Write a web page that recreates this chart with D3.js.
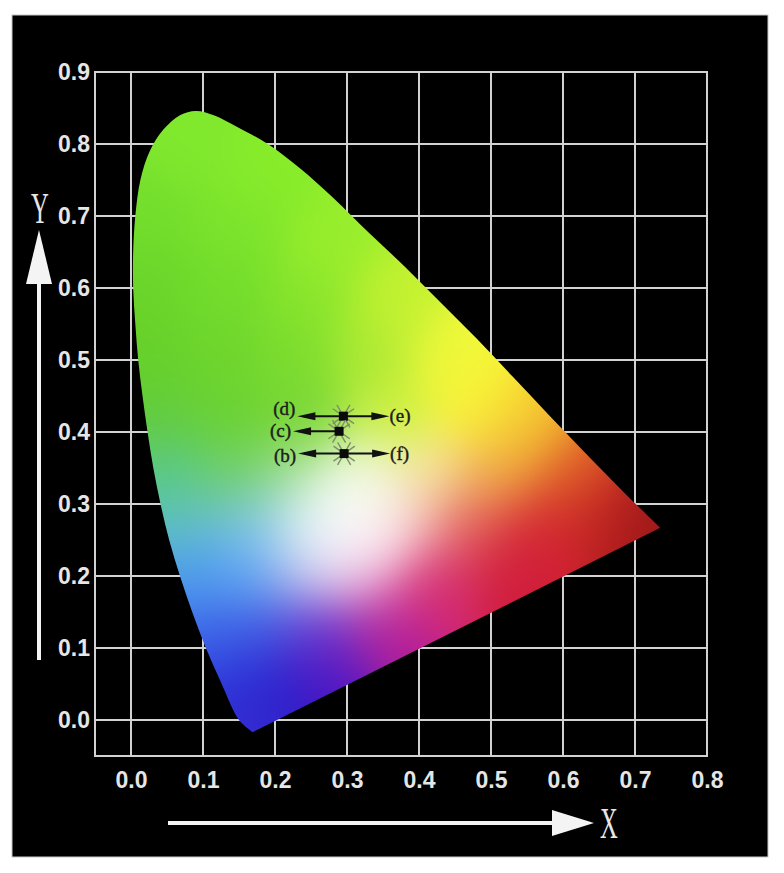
<!DOCTYPE html>
<html>
<head>
<meta charset="utf-8">
<script src="https://cdn.jsdelivr.net/npm/d3@7"></script>
<style>
  body { margin: 0; background: #fff; }
  svg { display: block; }
</style>
</head>
<body>
<svg id="chart" width="784" height="873"></svg>
<script>
// spectral locus: blue tip -> green peak -> red corner
const locusX = [0.169, 0.150, 0.126, 0.104, 0.085, 0.068, 0.053, 0.041, 0.031, 0.023, 0.016, 0.010, 0.006, 0.003, 0.003, 0.006, 0.013, 0.026, 0.045, 0.068, 0.090, 0.115, 0.147, 0.190, 0.235, 0.280, 0.330, 0.380, 0.430, 0.480, 0.530, 0.580, 0.630, 0.680, 0.735];
const locusY = [-0.017, 0.000, 0.050, 0.100, 0.150, 0.200, 0.250, 0.300, 0.350, 0.400, 0.450, 0.500, 0.550, 0.600, 0.650, 0.700, 0.750, 0.790, 0.820, 0.840, 0.846, 0.840, 0.824, 0.800, 0.766, 0.726, 0.677, 0.630, 0.580, 0.530, 0.477, 0.424, 0.372, 0.321, 0.267];

const xTicks = [0.0, 0.1, 0.2, 0.3, 0.4, 0.5, 0.6, 0.7, 0.8];
const yTicks = [0.0, 0.1, 0.2, 0.3, 0.4, 0.5, 0.6, 0.7, 0.8, 0.9];

// colours sampled from the figure at chromaticity positions
const anchorX = [0.08, 0.20, 0.03, 0.15, 0.28, 0.02, 0.12, 0.25, 0.36, 0.02, 0.12, 0.22, 0.33, 0.44, 0.04, 0.14, 0.24, 0.36, 0.48, 0.55, 0.05, 0.14, 0.23, 0.32, 0.42, 0.51, 0.61, 0.07, 0.16, 0.23, 0.30, 0.29, 0.28, 0.31, 0.38, 0.47, 0.57, 0.66, 0.73, 0.09, 0.16, 0.24, 0.32, 0.42, 0.53, 0.11, 0.18, 0.26, 0.35, 0.14, 0.20, 0.27, 0.17];
const anchorY = [0.80, 0.76, 0.70, 0.68, 0.66, 0.60, 0.60, 0.58, 0.58, 0.50, 0.50, 0.50, 0.50, 0.50, 0.42, 0.42, 0.42, 0.42, 0.43, 0.40, 0.34, 0.34, 0.34, 0.34, 0.34, 0.34, 0.34, 0.27, 0.27, 0.27, 0.29, 0.265, 0.255, 0.275, 0.27, 0.27, 0.27, 0.28, 0.265, 0.20, 0.20, 0.20, 0.20, 0.19, 0.21, 0.12, 0.12, 0.12, 0.12, 0.05, 0.04, 0.06, -0.01];
const anchorColor = ['#80e82d', '#88ec2a', '#74de2d', '#7ce42c', '#98ee2c', '#6ad42a', '#72dc2c', '#86e42c', '#c4f230', '#66d02a', '#6ed52c', '#7adc2e', '#a8e834', '#f0f83a', '#62cc3e', '#6ad232', '#7ad634', '#cff040', '#fbf236', '#f5c830', '#58c88a', '#6ed062', '#9ede84', '#e8f6c8', '#f8eaa0', '#f0a848', '#e05a28', '#5ec0c8', '#7cc4ea', '#a8daf0', '#ffffff', '#ffffff', '#ffffff', '#ffffff', '#f8ccd0', '#e25a5c', '#d42430', '#bc2020', '#9a1818', '#4a96f0', '#5ca6f4', '#b0b4ee', '#e890c8', '#d42870', '#d01c3c', '#3c64e8', '#3c5ae4', '#6a34d0', '#b41c98', '#2c36dc', '#2418c8', '#5012c0', '#3a2ed0'];

// measured samples
const sampleX = [0.295, 0.289, 0.296];
const sampleY = [0.422, 0.401, 0.370];
const leftLabels = ['(d)', '(c)', '(b)'];
const rightLabels = ['(e)', '', '(f)'];

const svg = d3.select('#chart');

svg.append('rect').attr('width', 784).attr('height', 873).attr('fill', '#fff');
svg.append('rect')
  .attr('x', 12).attr('y', 15).attr('width', 756).attr('height', 842)
  .attr('fill', '#000').attr('stroke', '#c8c8c8').attr('stroke-width', 1);

const x = d3.scaleLinear().domain([-0.05, 0.8]).range([95, 707]);
const y = d3.scaleLinear().domain([-0.05, 0.9]).range([756, 72]);

// grid + frame
const grid = svg.append('g').attr('stroke', '#d2d2d2').attr('stroke-width', 2).attr('fill', 'none');
grid.selectAll('.gx').data(xTicks.slice(0, -1)).join('line').attr('class', 'gx')
  .attr('x1', d => x(d)).attr('x2', d => x(d))
  .attr('y1', y(-0.05)).attr('y2', y(0.9));
grid.selectAll('.gy').data(yTicks.slice(0, -1)).join('line').attr('class', 'gy')
  .attr('x1', x(-0.05)).attr('x2', x(0.8))
  .attr('y1', d => y(d)).attr('y2', d => y(d));
grid.append('rect')
  .attr('x', x(-0.05)).attr('y', y(0.9))
  .attr('width', x(0.8) - x(-0.05)).attr('height', y(-0.05) - y(0.9));

// gamut outline used as clip
const locus = locusX.map((d, i) => [d, locusY[i]]);
const line = d3.line().x(d => x(d[0])).y(d => y(d[1])).curve(d3.curveCatmullRom.alpha(0.5));
svg.append('clipPath').attr('id', 'gamut').append('path').attr('d', line(locus) + 'Z');

// colour field: gaussian blend of sampled colours
const anchors = anchorX.map((d, i) => ({ x: d, y: anchorY[i], c: d3.rgb(anchorColor[i]) }));
const sigma = 0.045;
const s2 = 2 * sigma * sigma;
const x0 = Math.floor(x(-0.01)), x1 = Math.ceil(x(0.75));
const y0 = Math.floor(y(0.86)), y1 = Math.ceil(y(-0.03));
const cw = x1 - x0, ch = y1 - y0;
const canvas = document.createElement('canvas');
canvas.width = cw;
canvas.height = ch;
const ctx = canvas.getContext('2d');
const img = ctx.createImageData(cw, ch);
for (let j = 0; j < ch; j++) {
  const yv = y.invert(y0 + j + 0.5);
  for (let i = 0; i < cw; i++) {
    const xv = x.invert(x0 + i + 0.5);
    let r = 0, g = 0, b = 0, wt = 0;
    for (const a of anchors) {
      const dx = xv - a.x, dy = yv - a.y;
      const w = Math.exp(-(dx * dx + dy * dy) / s2);
      r += w * a.c.r; g += w * a.c.g; b += w * a.c.b; wt += w;
    }
    const k = (j * cw + i) * 4;
    img.data[k] = r / wt;
    img.data[k + 1] = g / wt;
    img.data[k + 2] = b / wt;
    img.data[k + 3] = 255;
  }
}
ctx.putImageData(img, 0, 0);

svg.append('image')
  .attr('x', x0).attr('y', y0).attr('width', cw).attr('height', ch)
  .attr('href', canvas.toDataURL())
  .attr('clip-path', 'url(#gamut)');

// axes
const tickFont = 'bold 23px "Liberation Sans", Arial, sans-serif';
const yAxis = svg.append('g')
  .attr('transform', `translate(${x(-0.05)},0)`)
  .call(d3.axisLeft(y).tickValues(yTicks).tickFormat(d3.format('.1f')).tickSize(0).tickPadding(5));
yAxis.select('.domain').remove();
yAxis.selectAll('text').attr('fill', '#e6e6e6').style('font', tickFont);

const xAxis = svg.append('g')
  .attr('transform', `translate(0,${y(-0.05)})`)
  .call(d3.axisBottom(x).tickValues(xTicks).tickFormat(d3.format('.1f')).tickSize(0).tickPadding(16));
xAxis.select('.domain').remove();
xAxis.selectAll('text').attr('fill', '#e6e6e6').style('font', tickFont);

// axis arrows and names
const arrows = svg.append('g').attr('fill', '#f4f4f4').attr('stroke', '#f4f4f4');
arrows.append('line').attr('x1', 39).attr('x2', 39).attr('y1', 660).attr('y2', 280).attr('stroke-width', 4);
arrows.append('path').attr('d', 'M39,230L26,284L52,284Z').attr('stroke', 'none');
arrows.append('line').attr('x1', 168).attr('x2', 556).attr('y1', 823).attr('y2', 823).attr('stroke-width', 4);
arrows.append('path').attr('d', 'M594,823L552,810L552,836Z').attr('stroke', 'none');

const nameFont = '44px "Liberation Serif", "Times New Roman", serif';
svg.append('text').text('Y')
  .attr('transform', 'translate(40,223) scale(0.56,1)')
  .attr('text-anchor', 'middle').attr('fill', '#e6e6e6').style('font', nameFont);
svg.append('text').text('X')
  .attr('transform', 'translate(609,838) scale(0.56,1)')
  .attr('text-anchor', 'middle').attr('fill', '#e6e6e6').style('font', nameFont);

// sample markers with arrows to their labels
const marks = svg.append('g');
const labelFont = '19px "Liberation Serif", "Times New Roman", serif';
const leftShift = [-7, 0, 2];
sampleX.forEach((sx, i) => {
  const cx = x(sx), cy = y(sampleY[i]);
  [35, 60, 120, 145, 215, 240, 300, 325].forEach(a => {
    const t = a * Math.PI / 180;
    marks.append('line')
      .attr('x1', cx).attr('y1', cy)
      .attr('x2', cx + 13 * Math.cos(t)).attr('y2', cy - 13 * Math.sin(t))
      .attr('stroke', '#7e8f6c').attr('stroke-width', 1.4);
  });

  // left arrow to label
  marks.append('line').attr('x1', cx - 4).attr('x2', cx - 40).attr('y1', cy).attr('y2', cy)
    .attr('stroke', '#111').attr('stroke-width', 2);
  marks.append('path').attr('d', `M${cx - 46},${cy}L${cx - 28},${cy - 4}L${cx - 28},${cy + 4}Z`).attr('fill', '#111');
  marks.append('text').text(leftLabels[i])
    .attr('x', cx - 48).attr('y', cy + 6 + leftShift[i]).attr('text-anchor', 'end')
    .attr('fill', '#1c1c1c').attr('stroke', '#1c1c1c').attr('stroke-width', 0.4)
    .style('font', labelFont);

  if (rightLabels[i]) {
    marks.append('line').attr('x1', cx + 4).attr('x2', cx + 40).attr('y1', cy).attr('y2', cy)
      .attr('stroke', '#111').attr('stroke-width', 2);
    marks.append('path').attr('d', `M${cx + 46},${cy}L${cx + 28},${cy - 4}L${cx + 28},${cy + 4}Z`).attr('fill', '#111');
    marks.append('text').text(rightLabels[i])
      .attr('x', cx + 46).attr('y', cy + 6)
      .attr('fill', '#1c1c1c').attr('stroke', '#1c1c1c').attr('stroke-width', 0.4)
      .style('font', labelFont);
  }

  marks.append('rect')
    .attr('x', cx - 4.5).attr('y', cy - 4.5).attr('width', 9).attr('height', 9)
    .attr('fill', '#0a0a0a');
});
</script>
</body>
</html>
